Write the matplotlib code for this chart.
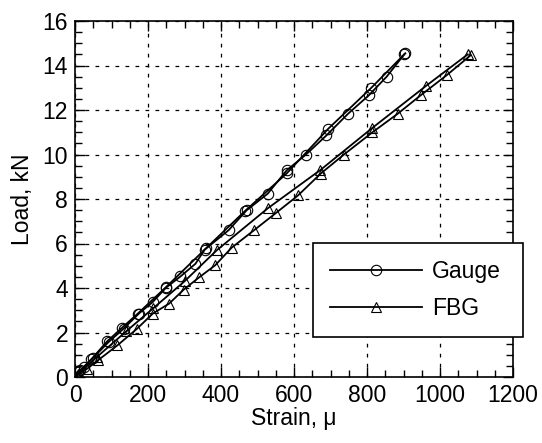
import matplotlib
matplotlib.use("Agg")
import matplotlib.pyplot as plt
from matplotlib.ticker import MultipleLocator

plt.rcParams['font.family'] = ['Liberation Sans', 'DejaVu Sans']

# Gauge: loading and unloading branches
gauge_up_strain = [0, 9, 24, 50, 92, 133, 175, 213, 249, 289, 330, 355, 421, 470, 528, 580, 633, 689, 748, 805, 854, 902]
gauge_up_load = [0, 0.22, 0.45, 0.87, 1.57, 2.17, 2.85, 3.37, 4.01, 4.52, 5.09, 5.72, 6.60, 7.49, 8.24, 9.29, 10.00, 10.86, 11.83, 12.66, 13.50, 14.50]
gauge_dn_strain = [905, 812, 694, 580, 465, 360, 250, 172, 128, 88, 45, 15, 0]
gauge_dn_load = [14.55, 13.0, 11.16, 9.15, 7.45, 5.80, 4.05, 2.85, 2.20, 1.60, 0.80, 0.30, 0]

# FBG: loading and unloading branches
fbg_up_strain = [0, 9, 33, 63, 116, 170, 213, 258, 298, 341, 384, 429, 490, 552, 611, 673, 737, 815, 884, 947, 1018, 1084]
fbg_up_load = [0, 0.15, 0.37, 0.75, 1.42, 2.17, 2.85, 3.30, 3.93, 4.49, 5.02, 5.81, 6.59, 7.39, 8.16, 9.14, 10.00, 11.00, 11.83, 12.66, 13.56, 14.46]
fbg_dn_strain = [1076, 963, 815, 672, 528, 388, 300, 215, 140, 60, 10, 0]
fbg_dn_load = [14.50, 13.10, 11.20, 9.30, 7.58, 5.69, 4.30, 3.10, 2.05, 0.90, 0.15, 0]

x_ticks = [0, 200, 400, 600, 800, 1000, 1200]
y_ticks = [0, 2, 4, 6, 8, 10, 12, 14, 16]

fig = plt.figure(figsize=(5.42, 4.43), dpi=100)
ax = fig.add_axes([75/542, 1-377/443, 438/542, 356/443])

mk = dict(markerfacecolor='none', markeredgecolor='black', markeredgewidth=0.8, markersize=7.5,
          color='black', linewidth=1.3)
ax.plot(gauge_up_strain, gauge_up_load, marker='o', label='Gauge', **mk)
ax.plot(gauge_dn_strain, gauge_dn_load, marker='o', **mk)
ax.plot(fbg_up_strain, fbg_up_load, marker='^', label='FBG', **mk)
ax.plot(fbg_dn_strain, fbg_dn_load, marker='^', **mk)

ax.set_xlim(0, 1200)
ax.set_ylim(0, 16)
ax.set_xticks(x_ticks)
ax.set_yticks(y_ticks)
ax.xaxis.set_minor_locator(MultipleLocator(50))
ax.yaxis.set_minor_locator(MultipleLocator(0.5))
ax.tick_params(which='both', direction='in', top=True, right=True, labelsize=16.5, width=1.0)
ax.tick_params(which='major', length=7, pad=5)
ax.tick_params(which='minor', length=5)
for s in ax.spines.values():
    s.set_linewidth(1.2)

ax.grid(True, which='major', color='black', linestyle=(0, (3, 5)), linewidth=0.9)
ax.set_axisbelow(True)

ax.set_xlabel('Strain, μ', fontsize=16.5, labelpad=0)
ax.set_ylabel('Load, kN', fontsize=16.5, labelpad=6)

leg = ax.legend(loc='lower left', bbox_to_anchor=(0.5427, 0.113, 0.479, 0.259), mode='expand',
                borderaxespad=0, fontsize=16.5, handlelength=4.0, handletextpad=0.45,
                borderpad=0.75, labelspacing=0.6, fancybox=False, framealpha=1, edgecolor='black')
leg.get_frame().set_linewidth(1.2)
leg.set_clip_on(False)

fig.savefig('out.png', dpi=100)
